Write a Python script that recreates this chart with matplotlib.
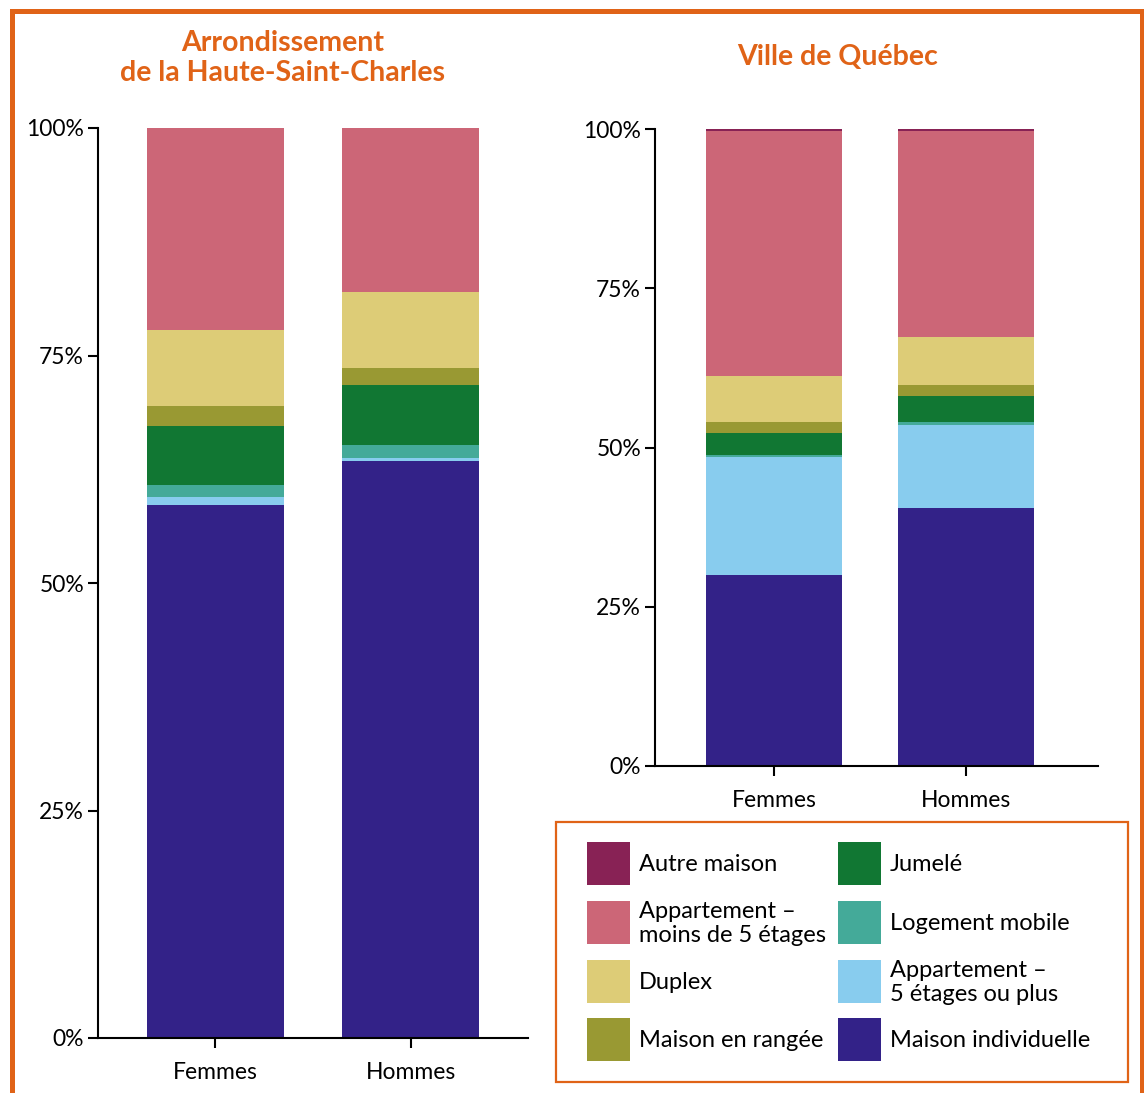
import matplotlib
matplotlib.use("Agg")
import matplotlib.pyplot as plt
from matplotlib.patches import Rectangle
from matplotlib.lines import Line2D
import numpy as np

plt.rcParams['font.family'] = ['Lato', 'DejaVu Sans']

# categories, stacked bottom -> top
CATEGORIES = ["Maison individuelle", "Appartement –\n5 étages ou plus", "Logement mobile",
              "Jumelé", "Maison en rangée", "Duplex",
              "Appartement –\nmoins de 5 étages", "Autre maison"]
COLORS = ["#332288", "#88ccee", "#44aa99", "#117733", "#999933", "#ddcc77",
          "#cc6677", "#882255"]
GROUPS = ["Femmes", "Hommes"]

# values in %, same order as CATEGORIES
HSC_FEMMES = [58.6, 0.9, 1.3, 6.4, 2.3, 8.3, 22.2, 0.0]
HSC_HOMMES = [63.4, 0.3, 1.5, 6.6, 1.8, 8.4, 18.0, 0.0]
QC_FEMMES = [30.0, 18.5, 0.3, 3.5, 1.7, 7.2, 38.5, 0.3]
QC_HOMMES = [40.5, 13.0, 0.5, 4.1, 1.7, 7.5, 32.4, 0.3]

YTICKS = [0, 25, 50, 75, 100]
YTICKLABELS = ["0%", "25%", "50%", "75%", "100%"]

ORANGE = "#e06317"
W, H = 1144, 1093


def stacked(ax, femmes, hommes, width, xlim):
    vals = np.array([femmes, hommes]).T  # categories x groups
    x = np.arange(len(GROUPS))
    bottom = np.zeros(len(GROUPS))
    for row, col in zip(vals, COLORS):
        ax.bar(x, row, width, bottom=bottom, color=col, linewidth=0)
        bottom += row
    ax.set_xlim(*xlim)
    ax.set_ylim(0, 100)
    ax.set_yticks(YTICKS)
    ax.set_yticklabels(YTICKLABELS)
    ax.set_xticks(x)
    ax.set_xticklabels(GROUPS)
    for s in ["top", "right"]:
        ax.spines[s].set_visible(False)
    for s in ["left", "bottom"]:
        ax.spines[s].set_linewidth(1.5)
    ax.tick_params(axis="both", direction="out", length=7, width=1.5,
                   labelsize=16.5, color="black")
    ax.tick_params(axis="y", pad=3)
    ax.tick_params(axis="x", pad=10)


fig = plt.figure(figsize=(W / 100, H / 100), dpi=100)


def fx(px):
    return px / W


def fy(py):
    return 1 - py / H


def fax(x0, y_top, x1, y_bot):
    return fig.add_axes([fx(x0), fy(y_bot), (x1 - x0) / W, (y_bot - y_top) / H])


ax1 = fax(98, 128, 528, 1038)
stacked(ax1, HSC_FEMMES, HSC_HOMMES, 0.70, (-0.6, 1.6))

ax2 = fax(655, 129, 1098, 766)
stacked(ax2, QC_FEMMES, QC_HOMMES, 0.71, (-0.62, 1.69))

fig.text(fx(283), fy(58), "Arrondissement\nde la Haute-Saint-Charles",
         ha="center", va="center", fontsize=20.5, fontweight="bold",
         color=ORANGE, linespacing=1.15)
fig.text(fx(838), fy(57), "Ville de Québec", ha="center", va="center",
         fontsize=20.5, fontweight="bold", color=ORANGE)

# orange frame (bottom edge runs off the picture)
fig.add_artist(Line2D([fx(11.5), fx(11.5), fx(1141.5), fx(1141.5)],
                      [0, fy(10.5), fy(10.5), 0], color=ORANGE, linewidth=3.6,
                      transform=fig.transFigure, solid_joinstyle="miter"))

# legend box, two columns, top of the stack first
fig.add_artist(Rectangle((fx(556), fy(1082)), (1128 - 556) / W, (1082 - 822) / H,
                         transform=fig.transFigure, facecolor="white",
                         edgecolor=ORANGE, linewidth=1.6))
order = [7, 6, 5, 4, 3, 2, 1, 0]
col_x = [587, 838]
row_y = [842, 901, 960, 1018]
sw = 43
for k, idx in enumerate(order):
    c, r = divmod(k, 4)
    x0, y0 = col_x[c], row_y[r]
    fig.add_artist(Rectangle((fx(x0), fy(y0 + sw)), sw / W, sw / H,
                             transform=fig.transFigure, facecolor=COLORS[idx],
                             edgecolor="none"))
    fig.text(fx(x0 + sw + 9), fy(y0 + sw / 2 + 1), CATEGORIES[idx], ha="left",
             va="center", fontsize=17, linespacing=1.2)

fig.savefig("out.png", dpi=100, facecolor="white")
